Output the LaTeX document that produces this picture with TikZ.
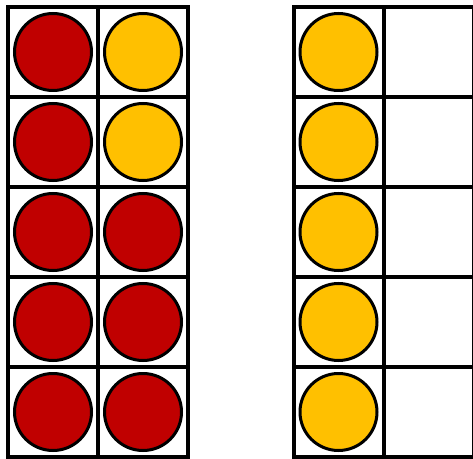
\documentclass[tikz,border=0pt]{standalone}
\definecolor{cred}{RGB}{192,0,0}
\definecolor{cyel}{RGB}{255,192,0}
\begin{document}
\begin{tikzpicture}[x=1pt,y=1pt,
  cell/.style={draw=black,line width=4pt,minimum size=90pt,inner sep=0pt,outer sep=0pt,fill=white},
  rdot/.style={circle,draw=black,line width=3pt,fill=cred,minimum size=77pt,inner sep=0pt},
  ydot/.style={circle,draw=black,line width=3pt,fill=cyel,minimum size=77pt,inner sep=0pt}]
\useasboundingbox (0,0) rectangle (473,458);
% left grid cells: x centres 53, 143 ; right grid 338.5, 428.5
\foreach \r in {0,...,4}{
  \pgfmathsetmacro{\yc}{458-52-90*\r}
  \node[cell] (L\r a) at (53,\yc) {};
  \node[cell] (L\r b) at (143,\yc) {};
  \node[cell] (R\r a) at (338.5,\yc) {};
  \node[cell] (R\r b) at (428.5,\yc) {};
}
% left grid dots
\node[rdot] (dL0a) at (L0a) {};
\node[ydot] (dL0b) at (L0b) {};
\node[rdot] (dL1a) at (L1a) {};
\node[ydot] (dL1b) at (L1b) {};
\node[rdot] (dL2a) at (L2a) {};
\node[rdot] (dL2b) at (L2b) {};
\node[rdot] (dL3a) at (L3a) {};
\node[rdot] (dL3b) at (L3b) {};
\node[rdot] (dL4a) at (L4a) {};
\node[rdot] (dL4b) at (L4b) {};
% right grid dots
\foreach \r in {0,...,4}{
  \node[ydot] (dR\r a) at (R\r a) {};
}
\end{tikzpicture}
\end{document}
